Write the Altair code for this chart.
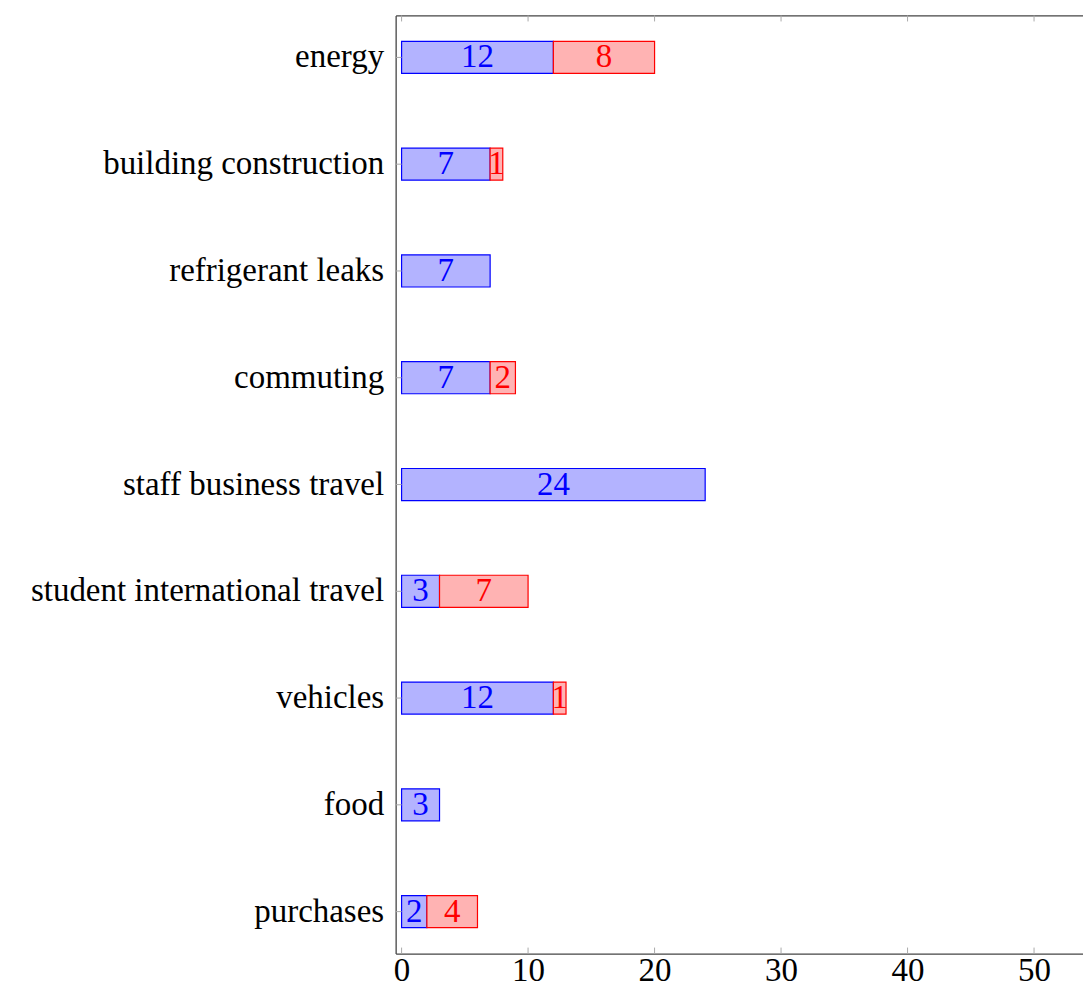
import altair as alt
import pandas as pd

categories = ["energy", "building construction", "refrigerant leaks", "commuting",
              "staff business travel", "student international travel", "vehicles",
              "food", "purchases"]
first_values = [12, 7, 7, 7, 24, 3, 12, 3, 2]
second_values = [8, 1, 0, 2, 0, 7, 1, 0, 4]
series_names = ["first", "second"]
x_ticks = [0, 10, 20, 30, 40, 50]

rows = []
for i, c in enumerate(categories):
    rows.append(dict(category=c, series="first", order=0, value=first_values[i]))
    rows.append(dict(category=c, series="second", order=1, value=second_values[i]))
df = pd.DataFrame(rows)
tick_df = pd.DataFrame({"tick": x_ticks})
cat_df = pd.DataFrame({"category": categories})

FONT = "Liberation Serif"
FS = 33
FRAME = "#444444"
TICK = "#aaaaaa"
H = 939

base = (
    alt.Chart(df)
    .transform_filter("datum.value > 0")
    .transform_stack(stack="value", groupby=["category"], as_=["x0", "x1"],
                     sort=[alt.SortField("order", order="ascending")])
    .transform_calculate(mid="(datum.x0 + datum.x1) / 2")
)

xscale = alt.Scale(domain=[-0.47, 53.87], nice=False, zero=False)
yscale = alt.Scale(domain=categories, paddingInner=0.7, paddingOuter=0.243)
fill_scale = alt.Scale(domain=series_names, range=["#b3b3ff", "#ffb3b3"])
stroke_scale = alt.Scale(domain=series_names, range=["#0000ff", "#ff0000"])

y_axis = alt.Axis(orient="left", ticks=False, tickSize=0, domain=True,
                  domainColor=FRAME, domainWidth=1.3,
                  grid=False, labelPadding=12,
                  labelLimit=1000, labelFont=FONT, labelFontSize=FS,
                  labelColor="black")

bars = base.mark_bar(strokeWidth=1.2, cornerRadius=0).encode(
    x=alt.X("x0:Q", scale=xscale, title=None,
            axis=alt.Axis(orient="bottom", values=x_ticks, ticks=False, tickSize=0,
                          domain=True, domainColor=FRAME, domainWidth=1.3,
                          grid=False, labelPadding=1, labelFlush=False,
                          labelFont=FONT, labelFontSize=FS, labelColor="black")),
    x2="x1:Q",
    y=alt.Y("category:N", scale=yscale, sort=categories, title=None, axis=y_axis),
    fill=alt.Fill("series:N", scale=fill_scale, legend=None),
    stroke=alt.Stroke("series:N", scale=stroke_scale, legend=None),
)

text = base.mark_text(fontSize=FS, font=FONT, baseline="middle", align="center").encode(
    x=alt.X("mid:Q", scale=xscale, title=None,
            axis=alt.Axis(orient="top", values=x_ticks, ticks=False, tickSize=0,
                          domain=True, domainColor=FRAME, domainWidth=1.3,
                          grid=False, labels=False)),
    y=alt.Y("category:N", scale=yscale, sort=categories, title=None, axis=y_axis),
    text=alt.Text("value:Q"),
    color=alt.Color("series:N", scale=stroke_scale, legend=None),
)

bottom_ticks = alt.Chart(tick_df).mark_rule(color=TICK, strokeWidth=1).encode(
    x=alt.X("tick:Q", scale=xscale, axis=None),
    y=alt.value(H), y2=alt.value(H - 6),
)
top_ticks = alt.Chart(tick_df).mark_rule(color=TICK, strokeWidth=1).encode(
    x=alt.X("tick:Q", scale=xscale, axis=None),
    y=alt.value(0), y2=alt.value(6),
)
left_ticks = alt.Chart(cat_df).mark_rule(color=TICK, strokeWidth=1).encode(
    y=alt.Y("category:N", scale=yscale, sort=categories, title=None, axis=y_axis),
    x=alt.value(0), x2=alt.value(6),
)

chart = (
    alt.layer(bars, text, bottom_ticks, top_ticks, left_ticks)
    .resolve_axis(x="independent")
    .properties(width=688, height=H, background="white",
                padding={"left": 22, "top": 6, "right": 0, "bottom": 0})
    .configure_view(stroke=None)
)

chart.save("out.html", embed_options={"renderer": "svg", "actions": False})
